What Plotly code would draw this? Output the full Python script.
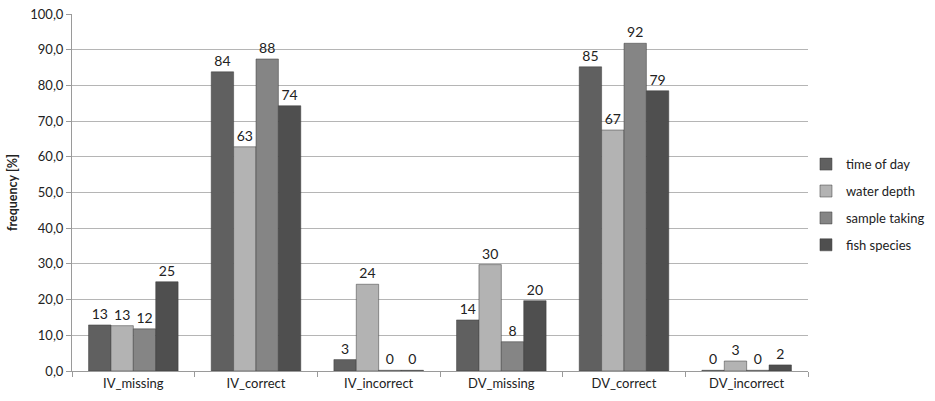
import plotly.graph_objects as go

categories = ["IV_missing", "IV_correct", "IV_incorrect", "DV_missing", "DV_correct", "DV_incorrect"]
series_names = ["time of day", "water depth", "sample taking", "fish species"]
time_of_day = [12.9, 83.8, 3.2, 14.3, 85.2, 0.2]
water_depth = [12.7, 62.8, 24.3, 29.8, 67.5, 2.8]
sample_taking = [11.8, 87.4, 0.2, 8.2, 91.8, 0.2]
fish_species = [25.0, 74.3, 0.2, 19.7, 78.5, 1.7]
labels_time = ["13", "84", "3", "14", "85", "0"]
labels_water = ["13", "63", "24", "30", "67", "3"]
labels_sample = ["12", "88", "0", "8", "92", "0"]
labels_fish = ["25", "74", "0", "20", "79", "2"]
y_ticks = [0, 10, 20, 30, 40, 50, 60, 70, 80, 90, 100]

colors = ["#606060", "#b3b3b3", "#858585", "#4f4f4f"]
values = [time_of_day, water_depth, sample_taking, fish_species]
labels = [labels_time, labels_water, labels_sample, labels_fish]

font_family = "Lato, 'Open Sans', sans-serif"

fig = go.Figure()
for name, vals, labs, col in zip(series_names, values, labels, colors):
    fig.add_trace(go.Bar(
        x=categories, y=vals, name=name, text=labs, legendgroup=name,
        textposition="outside", cliponaxis=False,
        textfont=dict(size=14, color="#222222", family=font_family),
        marker=dict(color=col, line=dict(color="#3a3a3a", width=0.5)),
    ))

fig.update_layout(
    width=935, height=401,
    margin=dict(l=72, r=127, t=14, b=30, autoexpand=False),
    paper_bgcolor="white", plot_bgcolor="white",
    barmode="group", bargap=0.27, bargroupgap=0,
    separators=",.",
    font=dict(family=font_family, size=13, color="#222222"),
    legend=dict(xref="container", yref="container",
                x=0.862, y=0.628, xanchor="left", yanchor="top",
                font=dict(size=13, color="#222222"), tracegroupgap=7,
                traceorder="grouped",
                itemwidth=30, bgcolor="rgba(0,0,0,0)"),
    showlegend=True,
)
fig.update_yaxes(
    range=[0, 100], tickvals=y_ticks, tickformat=".1f",
    showgrid=True, gridcolor="#b5b5b5", gridwidth=1,
    showline=True, linecolor="#9a9a9a", linewidth=1,
    ticks="outside", ticklen=5, tickcolor="#9a9a9a",
    tickfont=dict(size=13, color="#222222"),
    title=dict(text="<b>frequency [%]</b>", font=dict(size=12.5, color="#222222"), standoff=9),
    zeroline=False, automargin=False,
)
fig.update_xaxes(
    showline=True, linecolor="#9a9a9a", linewidth=1,
    ticks="outside", ticklen=5, tickcolor="#9a9a9a", tickson="boundaries",
    tickfont=dict(size=13, color="#222222"), automargin=False,
)

fig.write_html("out.html", config={"displayModeBar": False},
               post_script="document.body.style.margin='0';document.body.style.overflow='hidden';")
